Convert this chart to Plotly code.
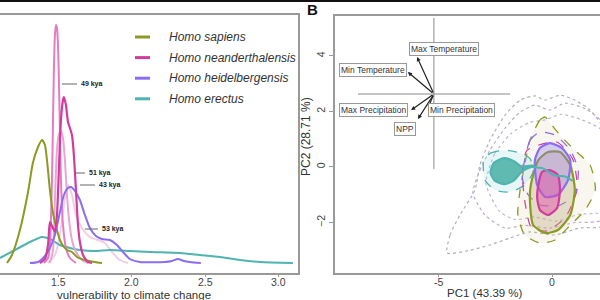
import plotly.graph_objects as go

# ---------------- Panel A: density curves ----------------
sap_x = [1.153, 1.187, 1.241, 1.295, 1.329, 1.364, 1.391, 1.411, 1.425, 1.445, 1.466, 1.493, 1.513, 1.54, 1.561, 1.595, 1.629, 1.683, 1.751, 1.799]
sap_y = [0, 0.8, 3.3, 7.0, 10.0, 11.6, 12.3, 11.8, 10.3, 7.3, 5.0, 3.3, 2.3, 1.6, 1.3, 1.1, 0.6, 0.3, 0.1, 0]

ere_x = [1.105, 1.207, 1.309, 1.391, 1.445, 1.513, 1.581, 1.649, 1.751, 1.853, 1.989, 2.125, 2.329, 2.465, 2.602, 2.738, 2.874, 3.098]
ere_y = [0.5, 1.3, 2.1, 2.6, 2.4, 1.8, 1.5, 1.3, 1.2, 1.3, 1.2, 1.1, 1.0, 0.8, 0.6, 0.3, 0.1, 0.0]

hei_x = [1.309, 1.364, 1.411, 1.445, 1.479, 1.513, 1.54, 1.568, 1.588, 1.615, 1.649, 1.683, 1.717, 1.758, 1.799, 1.853, 1.901, 1.942, 1.989, 2.057, 2.227, 2.275, 2.316, 2.357, 2.397, 2.472]
hei_y = [0, 0.1, 0.7, 1.5, 2.8, 5.1, 6.8, 7.5, 7.6, 7.2, 6.3, 4.8, 3.5, 2.7, 2.4, 2.3, 1.8, 1.1, 0.4, 0.1, 0.1, 0.2, 0.4, 0.2, 0.1, 0]

nea_x = [1.377, 1.411, 1.432, 1.445, 1.459, 1.479, 1.493, 1.506, 1.52, 1.534, 1.54, 1.554, 1.568, 1.581, 1.595, 1.608, 1.622, 1.636, 1.649, 1.67, 1.704, 1.731]
nea_y = [0, 0.4, 1.8, 4.1, 3.7, 3.1, 4.8, 9.3, 14.3, 16.3, 16.6, 15.8, 14.1, 13.5, 12.8, 10.8, 7.3, 3.8, 2.1, 0.8, 0.1, 0]

nea49_x = [1.404, 1.432, 1.445, 1.459, 1.466, 1.472, 1.479, 1.486, 1.493, 1.5, 1.506, 1.513, 1.52, 1.534, 1.554, 1.581, 1.622]
nea49_y = [0, 0.5, 1.8, 8.3, 14.3, 19.3, 22.8, 23.8, 23.5, 21.8, 18.3, 13.3, 8.3, 3.8, 1.5, 0.5, 0]

nea43_x = [1.445, 1.466, 1.479, 1.493, 1.506, 1.52, 1.534, 1.547, 1.561, 1.575, 1.595, 1.622, 1.663, 1.704]
nea43_y = [0, 1.3, 6.3, 11.3, 12.9, 13.2, 12.5, 10.3, 6.8, 4.3, 2.3, 1.1, 0.3, 0]

nea53_x = [1.432, 1.479, 1.513, 1.54, 1.568, 1.595, 1.622, 1.663, 1.717, 1.772, 1.819, 1.867, 1.921, 1.976]
nea53_y = [0, 0.8, 2.8, 5.8, 7.8, 6.8, 4.8, 3.5, 2.6, 2.3, 2.0, 1.1, 0.3, 0]

a_ticks = [1.5, 2.0, 2.5, 3.0]
a_ticktext = ["1.5", "2.0", "2.5", "3.0"]

legend_names = ["Homo sapiens", "Homo neanderthalensis", "Homo heidelbergensis", "Homo erectus"]
legend_colors = ["#8c9a22", "#d23c9c", "#8a6ef2", "#4fb3b0"]

kya_labels = ["49 kya", "51 kya", "43 kya", "53 kya"]
kya_x0 = [1.527, 1.615, 1.649, 1.683]
kya_x1 = [1.629, 1.683, 1.751, 1.772]
kya_y = [17.9, 9.0, 7.8, 3.4]

# ---------------- Panel B: PCA biplot ----------------
b_xticks = [-5, 0]
b_xticktext = ["-5", "0"]
pc_center = (-5.18, 2.63)
var_names = ["Max Temperature", "Min Temperature", "Max Precipitation", "NPP", "Min Precipitation"]
var_tip_x = [-5.92, -6.32, -6.18, -5.88, -5.44]
var_tip_y = [3.96, 3.42, 2.05, 1.73, 2.13]
var_lab_x = [-4.74, -7.85, -7.85, -6.45, -3.99]
var_lab_y = [4.25, 3.5, 2.05, 1.37, 2.05]

outer1_x = [-4.6, -4.47, -4.04, -3.38, -3.16, -2.72, -2.06, -1.40, -0.75, -0.31, 0.35, 1.0, 1.67, 2.3, 2.3, 1.2, 0.1, -0.96, -1.84, -2.72, -3.6, -4.6]
outer1_y = [-3.1, -2.45, -1.73, -0.83, 0.07, 0.97, 1.87, 2.41, 2.56, 2.41, 2.59, 2.41, 2.05, 1.3, -2.1, -2.2, -2.45, -2.34, -2.56, -2.81, -3.0, -3.1]

outer2_x = [-3.47, -3.16, -2.72, -2.06, -1.4, -0.75, -0.09, 0.57, 1.45, 2.2, 2.2, 1.0, -0.1, -1.2, -2.06, -2.94, -3.47]
outer2_y = [-0.94, -0.11, 0.61, 1.4, 1.98, 2.23, 2.05, 2.3, 2.1, 1.6, -1.9, -2.0, -2.2, -2.1, -2.2, -1.73, -0.94]

outer3_x = [-2.9, -2.5, -1.8, -1.0, -0.3, 0.4, 1.3, 2.2, 2.2, 1.2, 0.2, -0.8, -1.6, -2.3, -2.9]
outer3_y = [-0.6, 0.5, 1.2, 1.6, 1.7, 1.9, 1.7, 1.3, -1.6, -1.7, -1.95, -1.8, -1.9, -1.6, -0.6]

ere_d_x = [-3.0, -2.7, -2.06, -1.4, -0.96, -0.83, -1.2, -1.84, -2.5, -2.94, -3.0]
ere_d_y = [0.25, 0.5, 0.61, 0.5, 0.3, -0.18, -0.65, -0.9, -0.83, -0.47, 0.25]
ere_s_x = [-2.7, -2.55, -2.1, -1.65, -1.35, -0.8, -1.3, -1.7, -2.1, -2.5, -2.7]
ere_s_y = [-0.2, 0.15, 0.32, 0.2, 0.02, 0.05, -0.15, -0.5, -0.62, -0.5, -0.2]
ere_t_x = [-0.9, -0.4, 0.1, 0.6, 0.9]
ere_t_y = [0.0, -0.05, -0.3, -0.35, -0.5]

sap_d_x = [-0.96, -0.53, -0.3, 0.0, 0.35, 1.0, 1.67, 1.9, 1.45, 0.8, 0.13, -0.53, -1.2, -1.5, -1.4, -1.2, -0.96]
sap_d_y = [0.97, 1.69, 1.8, 1.5, 1.15, 0.6, 0.07, -0.83, -1.55, -2.1, -2.63, -2.74, -2.45, -1.73, -0.83, 0.07, 0.97]
sap_s_x = [-0.83, -0.6, -0.18, 0.35, 0.8, 1.0, 0.8, 0.26, -0.3, -0.83, -0.96, -0.96, -0.83]
sap_s_y = [-0.29, 0.25, 0.54, 0.54, 0.07, -0.83, -1.73, -2.27, -2.38, -2.09, -1.37, -0.83, -0.29]

hei_d_x = [-1.2, -0.96, -0.53, 0.13, 0.8, 1.15, 1.0, 0.35, -0.53, -1.05, -1.3, -1.2]
hei_d_y = [0.25, 0.97, 1.26, 1.15, 0.61, -0.11, -1.0, -1.37, -1.37, -1.0, -0.4, 0.25]
hei_s_x = [-0.75, -0.53, -0.09, 0.44, 0.8, 0.7, 0.26, -0.3, -0.65, -0.75]
hei_s_y = [0.25, 0.68, 0.86, 0.68, 0.25, -0.47, -1.0, -1.08, -0.65, 0.25]

nea_d_x = [-1.1, 0.2, 0.9, 1.1, 0.6, -0.2, -0.9, -1.2, -1.3, -1.1]
nea_d_y = [0.6, 0.9, 0.3, -0.8, -1.8, -2.3, -2.2, -1.2, -0.2, 0.6]
nea_s_x = [-0.6, -0.44, -0.09, 0.26, 0.35, 0.22, -0.18, -0.53, -0.65, -0.6]
nea_s_y = [-0.65, -0.18, -0.11, -0.29, -0.83, -1.48, -1.73, -1.55, -1.12, -0.65]

SAP, NEA, HEI, ERE = legend_colors
FONT = "Liberation Sans, Arial, sans-serif"

fig = go.Figure()


def line(x, y, color, width, xa="x", ya="y", dash="solid", smooth=0.6, fill=None, fillcolor=None):
    fig.add_trace(go.Scatter(
        x=x, y=y, mode="lines", xaxis=xa, yaxis=ya, showlegend=False, hoverinfo="skip",
        line=dict(color=color, width=width, dash=dash, shape="spline", smoothing=smooth),
        fill=fill, fillcolor=fillcolor))


# Panel A curves
line(nea53_x, nea53_y, "#f1cfe2", 2)
line(ere_x, ere_y, ERE, 2)
line(nea43_x, nea43_y, "#eaa5d4", 2)
line(nea49_x, nea49_y, "#e47cc4", 2)
line(sap_x, sap_y, SAP, 2)
line(hei_x, hei_y, HEI, 2)
line(nea_x, nea_y, NEA, 2.2)

# Panel B contours
line(outer1_x, outer1_y, "#b0b0b8", 1.2, "x2", "y2", dash="dot")
line(outer2_x, outer2_y, "#c0a8c8", 1.2, "x2", "y2", dash="dot")
line(outer3_x, outer3_y, "#b8b8d8", 1.2, "x2", "y2", dash="dot")
line(sap_d_x, sap_d_y, SAP, 1.3, "x2", "y2", dash="dash", fill="toself", fillcolor="rgba(215,205,160,0.18)")
line(ere_d_x, ere_d_y, ERE, 1.3, "x2", "y2", dash="dash", fill="toself", fillcolor="rgba(160,220,220,0.25)")
line(nea_d_x, nea_d_y, NEA, 1.2, "x2", "y2", dash="dash")
line(hei_d_x, hei_d_y, HEI, 1.3, "x2", "y2", dash="dash")
line(sap_s_x, sap_s_y, SAP, 2.2, "x2", "y2", fill="toself", fillcolor="rgba(190,170,120,0.35)")
line(hei_s_x, hei_s_y, HEI, 2.2, "x2", "y2", fill="toself", fillcolor="rgba(150,120,240,0.35)")
line(nea_s_x, nea_s_y, NEA, 2.2, "x2", "y2", fill="toself", fillcolor="rgba(225,70,165,0.45)")
line(ere_s_x, ere_s_y, ERE, 2.2, "x2", "y2", fill="toself", fillcolor="rgba(50,165,155,0.75)")
line(ere_t_x, ere_t_y, ERE, 2.0, "x2", "y2")

# biplot cross lines
fig.add_trace(go.Scatter(x=[pc_center[0], pc_center[0]], y=[-0.07, 5.37], mode="lines", xaxis="x2", yaxis="y2",
                         line=dict(color="#8a8a8a", width=1), showlegend=False, hoverinfo="skip"))
fig.add_trace(go.Scatter(x=[-8.51, -1.84], y=[pc_center[1], pc_center[1]], mode="lines", xaxis="x2", yaxis="y2",
                         line=dict(color="#8a8a8a", width=1), showlegend=False, hoverinfo="skip"))

annotations = []
shapes = []


def text(x, y, t, xref="paper", yref="paper", size=11, color="#333", xanchor="center", **kw):
    annotations.append(dict(x=x, y=y, xref=xref, yref=yref, text=t, showarrow=False,
                            xanchor=xanchor, yanchor="middle",
                            font=dict(family=FONT, size=size, color=color), **kw))


# arrows + labels
for n, tx, ty, lx, ly in zip(var_names, var_tip_x, var_tip_y, var_lab_x, var_lab_y):
    annotations.append(dict(x=tx, y=ty, ax=pc_center[0], ay=pc_center[1], xref="x2", yref="y2",
                            axref="x2", ayref="y2", text="", showarrow=True, arrowhead=2,
                            arrowsize=0.7, arrowwidth=1.2, arrowcolor="#222"))
    text(lx, ly, n, "x2", "y2", size=8.5, bgcolor="white", bordercolor="#999", borderwidth=1, borderpad=1)

# kya labels
for lab, x0, x1, y in zip(kya_labels, kya_x0, kya_x1, kya_y):
    shapes.append(dict(type="line", xref="x", yref="y", x0=x0, x1=x1, y0=y, y1=y,
                       line=dict(color="#666", width=1)))
    text(x1 + 0.015, y, "<b>" + lab + "</b>", "x", "y", size=7, color="#222", xanchor="left")

# x tick labels (placed as text so they sit close to the axis like the original)
TICK_Y = 1 - 282 / 300
for v, t in zip(a_ticks, a_ticktext):
    text(v, TICK_Y, t, "x", "paper", size=10.5, color="#444")
for v, t in zip(b_xticks, b_xticktext):
    text(v, TICK_Y, t, "x2", "paper", size=10.5, color="#444")

# legend (manual)
for i, (n, c) in enumerate(zip(legend_names, legend_colors)):
    yy = 1 - (37 + i * 20.6) / 300
    shapes.append(dict(type="line", xref="paper", yref="paper", x0=135 / 600, x1=150 / 600, y0=yy, y1=yy,
                       line=dict(color=c, width=3)))
    text(167 / 600, yy, "<i>" + n + "</i>", size=12, xanchor="left")

# titles
text(134 / 600, 1 - 295 / 300, "vulnerability to climate change", size=11.5)
text(485 / 600, 1 - 293 / 300, "PC1 (43.39 %)", size=11.5)
text(306 / 600, 1 - 137 / 300, "PC2 (28.71 %)", size=12, textangle=-90)
text(313 / 600, 1 - 10 / 300, "<b>B</b>", size=15, color="#111")

shapes.append(dict(type="line", xref="paper", yref="paper", x0=0, x1=1, y0=1 - 1 / 300, y1=1 - 1 / 300,
                   line=dict(color="#111", width=2)))

axis_common = dict(showgrid=False, zeroline=False, showline=True, linecolor="#999", linewidth=1.5,
                   tickfont=dict(family=FONT, size=10.5, color="#444"), tickcolor="#999")

fig.update_layout(
    width=600, height=300, margin=dict(l=0, r=0, t=0, b=0),
    paper_bgcolor="white", plot_bgcolor="white", showlegend=False,
    xaxis=dict(domain=[0, 298 / 600], range=[1.1054, 3.1327], anchor="y", mirror=True,
               tickvals=a_ticks, showticklabels=False, ticks="outside", ticklen=2, **axis_common),
    yaxis=dict(domain=[0.09, 0.95], range=[-1, 24.8], anchor="x", side="right",
               showticklabels=False, ticks="", **axis_common),
    xaxis2=dict(domain=[335 / 600, 1], range=[-9.518, 2.105], anchor="y2", mirror=True,
                tickvals=b_xticks, showticklabels=False, ticks="outside", ticklen=2, **axis_common),
    yaxis2=dict(domain=[0.09, 0.9467], range=[-3.82, 5.441], anchor="x2",
                tickvals=[-2, 0, 2, 4], tickangle=-90, ticks="outside", ticklen=4, **axis_common),
    annotations=annotations, shapes=shapes,
)

fig.write_html("out.html")
